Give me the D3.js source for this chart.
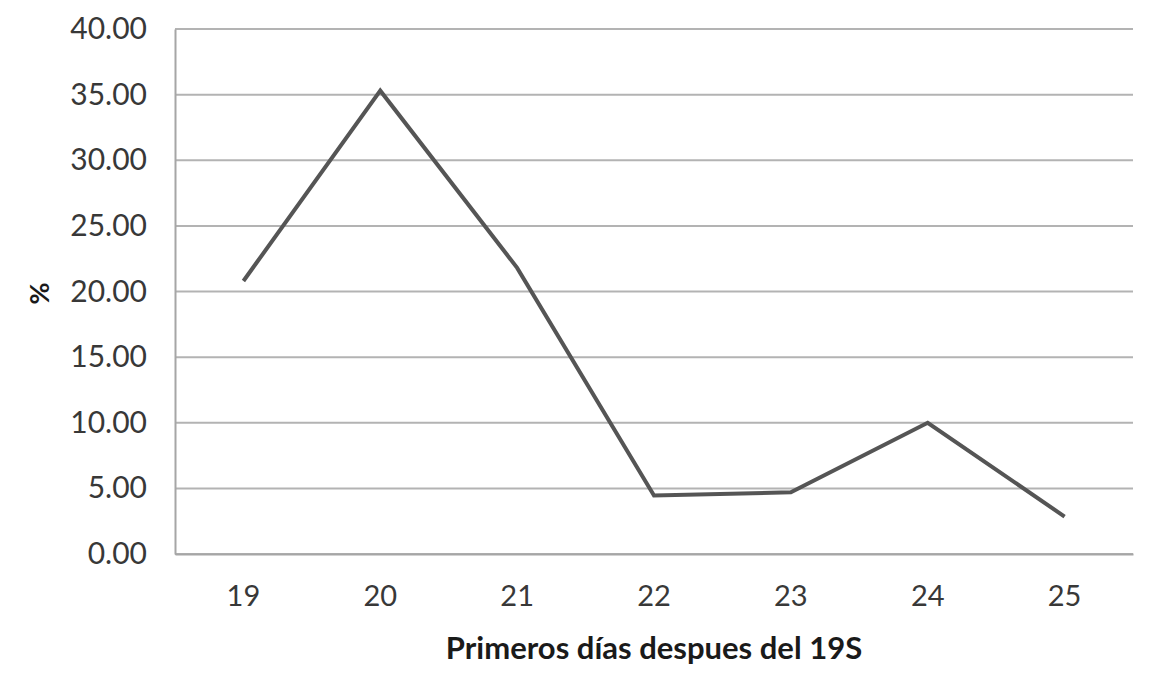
<!DOCTYPE html>
<html>
<head>
<meta charset="utf-8">
<script src="https://cdn.jsdelivr.net/npm/d3@7"></script>
<style>
  body { margin: 0; background: #fff; }
  svg { display: block; }
</style>
</head>
<body>
<div id="chart"></div>
<script>
// data
const days = ['19', '20', '21', '22', '23', '24', '25'];
const percent = [20.8, 35.3, 21.8, 4.45, 4.7, 10.0, 2.85];
const yTicks = [0, 5, 10, 15, 20, 25, 30, 35, 40];
const xTitle = 'Primeros días despues del 19S';
const yTitle = '%';

const W = 1157, H = 695;
const margin = { top: 29, right: 24, bottom: 141, left: 175 };
const width = W - margin.left - margin.right;
const height = H - margin.top - margin.bottom;

const svg = d3.select('#chart').append('svg')
  .attr('width', W)
  .attr('height', H);

const chart = svg.append('g')
  .attr('transform', `translate(${margin.left}, ${margin.top})`);

const x = d3.scaleBand().domain(days).range([0, width]);
const y = d3.scaleLinear().domain([0, 40]).range([height, 0]);

// horizontal gridlines
chart.append('g')
  .selectAll('line')
  .data(yTicks)
  .join('line')
    .attr('x1', 0)
    .attr('x2', width)
    .attr('y1', d => y(d))
    .attr('y2', d => y(d))
    .attr('stroke', '#b3b3b3')
    .attr('stroke-width', 2);

// y axis
const yAxis = chart.append('g')
  .call(d3.axisLeft(y).tickValues(yTicks).tickFormat(d3.format('.2f')).tickSize(0).tickPadding(28));
yAxis.select('.domain').attr('stroke', '#a6a6a6').attr('stroke-width', 2);
yAxis.selectAll('text')
  .style('font', '30px Lato, sans-serif')
  .attr('fill', '#383838');

// x axis
const xAxis = chart.append('g')
  .attr('transform', `translate(0, ${height})`)
  .call(d3.axisBottom(x).tickSize(0).tickPadding(31));
xAxis.select('.domain').attr('stroke', '#a6a6a6').attr('stroke-width', 2);
xAxis.selectAll('text')
  .style('font', '29px Lato, sans-serif')
  .attr('fill', '#383838');

// the line
const line = d3.line()
  .x((d, i) => x(days[i]) + x.bandwidth() / 2)
  .y(d => y(d));

chart.append('path')
  .datum(percent)
  .attr('d', line)
  .attr('fill', 'none')
  .attr('stroke', '#555555')
  .attr('stroke-width', 4)
  .attr('stroke-linejoin', 'miter');

// axis titles
svg.append('text')
  .attr('x', margin.left + width / 2)
  .attr('y', 659)
  .attr('text-anchor', 'middle')
  .style('font', 'bold 31px Lato, sans-serif')
  .attr('fill', '#1a1a1a')
  .text(xTitle);

svg.append('text')
  .attr('transform', `translate(49, ${margin.top + height / 2 + 2}) rotate(-90)`)
  .attr('text-anchor', 'middle')
  .style('font', 'bold 27px Lato, sans-serif')
  .attr('fill', '#1a1a1a')
  .text(yTitle);
</script>
</body>
</html>
